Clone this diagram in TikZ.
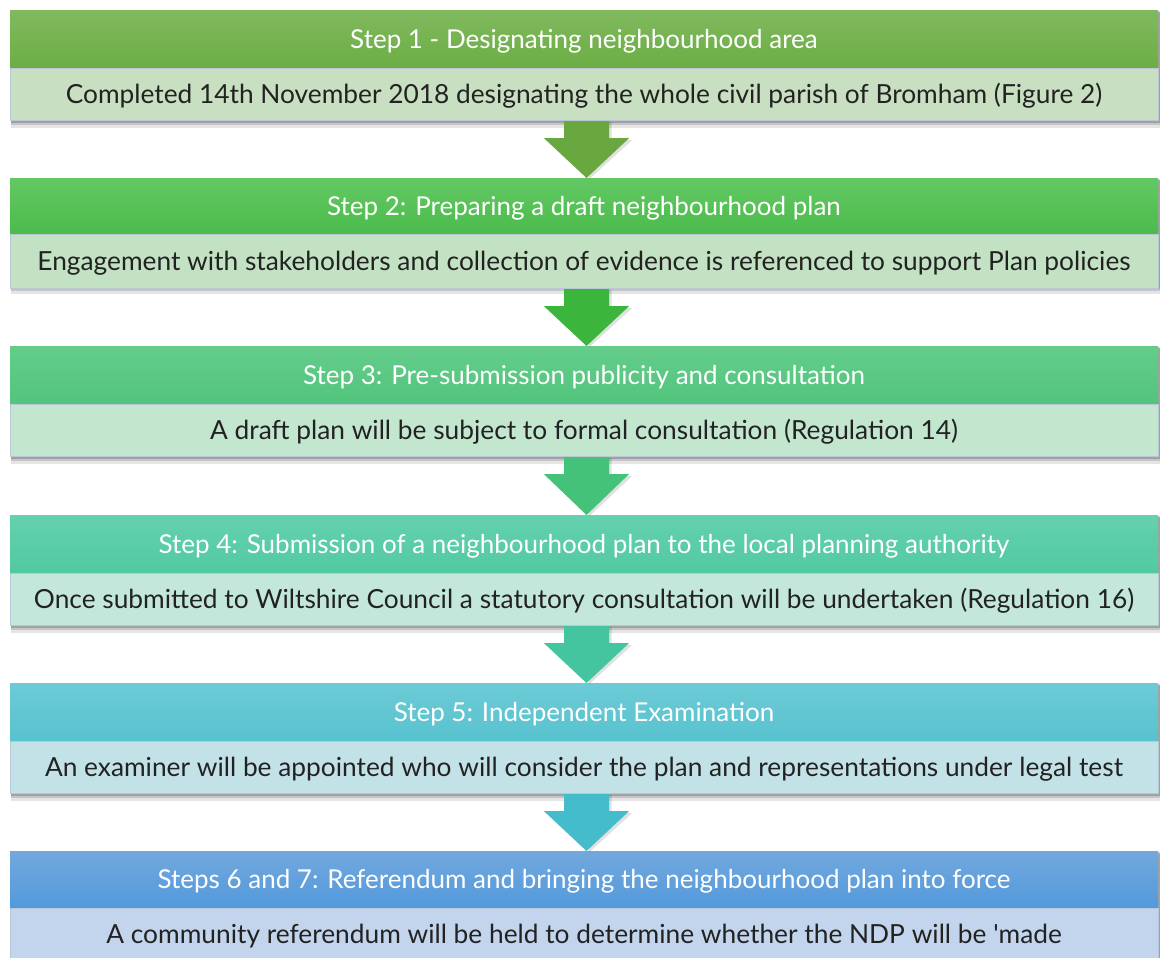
\documentclass[tikz,border=0pt]{standalone}
\usepackage{fontspec}
\setmainfont{Lato}[Ligatures=TeXOff]
\usetikzlibrary{calc}
\definecolor{h1t}{HTML}{80B95E}\definecolor{h1b}{HTML}{6CAD44}\definecolor{c1}{HTML}{C9DFC1}\definecolor{a1}{HTML}{68A83E}
\definecolor{h2t}{HTML}{63C863}\definecolor{h2b}{HTML}{4BBB4B}\definecolor{c2}{HTML}{C3E2C3}\definecolor{a2}{HTML}{3CB53C}
\definecolor{h3t}{HTML}{64CD8C}\definecolor{h3b}{HTML}{52C47C}\definecolor{c3}{HTML}{C3E6CF}\definecolor{a3}{HTML}{45C27A}
\definecolor{h4t}{HTML}{64D1AF}\definecolor{h4b}{HTML}{52C9A1}\definecolor{c4}{HTML}{C3E7DB}\definecolor{a4}{HTML}{45C4A0}
\definecolor{h5t}{HTML}{6CCBD6}\definecolor{h5b}{HTML}{58C2CF}\definecolor{c5}{HTML}{C3E2E8}\definecolor{a5}{HTML}{45BCCB}
\definecolor{h6t}{HTML}{72A8DD}\definecolor{h6b}{HTML}{5399DC}\definecolor{c6}{HTML}{C3D5EC}
\definecolor{bodyline}{HTML}{B8C6D8}
\definecolor{bodytext}{HTML}{222222}
\newcommand{\flowarrow}[3]{%
  \fill[black,opacity=0.12] ($(#1.south)+(-19.5,1)$) -- ($(#1.south)+(27.5,1)$) -- ($(#1.south)+(27.5,19)$) -- ($(#1.south)+(48,19)$) -- ($(#2.north)+(5.5,1)$) -- cycle;
  \fill[#3] ($(#1.south)+(-20,0)$) -- ($(#1.south)+(25,0)$) -- ($(#1.south)+(25,17)$) -- ($(#1.south)+(45,17)$) -- ($(#2.north)+(2.5,0)$) -- ($(#1.south)+(-40,17)$) -- ($(#1.south)+(-20,17)$) -- cycle;}
\newcommand{\stepshadow}[2]{%
  \fill[black,opacity=0.10] ($(#1.north west)+(1,3)$) rectangle ($(#2.south east)+(4,7)$);
  \fill[black,opacity=0.14] ($(#1.north west)+(1,2)$) rectangle ($(#2.south east)+(3,4.5)$);
  \fill[black,opacity=0.18] ($(#1.north west)+(1,1)$) rectangle ($(#2.south east)+(2,2.5)$);}
\begin{document}
\begin{tikzpicture}[x=1pt,y=-1pt,
  head/.style={minimum width=1148pt, minimum height=58pt, inner sep=0pt, anchor=north,
    text height=20pt, text depth=2pt,
    text=white, font=\fontsize{26}{30}\selectfont},
  body/.style={minimum width=1148pt, minimum height=52pt, inner sep=0pt, anchor=north,
    text height=20pt, text depth=2pt,
    draw=bodyline, line width=0.8pt, text=bodytext, font=\fontsize{26.3}{30}\selectfont}]
\useasboundingbox (0,0) rectangle (1160,958);
\path (584,10) coordinate (p1) (584,178) coordinate (p2) (584,346) coordinate (p3)
      (584,515) coordinate (p4) (584,683) coordinate (p5) (584,851) coordinate (p6);
% invisible placement helpers for shadows
\path node[head,draw=none] (h1) at (p1) {} node[body,draw=none,anchor=north] (b1) at ($(p1)+(0,58)$) {};
\path node[head,draw=none] (h2) at (p2) {} node[body,draw=none] (b2) at ($(p2)+(0,56)$) {};
\path node[head,draw=none] (h3) at (p3) {} node[body,draw=none] (b3) at ($(p3)+(0,58)$) {};
\path node[head,draw=none] (h4) at (p4) {} node[body,draw=none] (b4) at ($(p4)+(0,58)$) {};
\path node[head,draw=none] (h5) at (p5) {} node[body,draw=none] (b5) at ($(p5)+(0,58)$) {};
\path node[head,draw=none] (h6) at (p6) {} node[body,draw=none] (b6) at ($(p6)+(0,57)$) {};
\stepshadow{h1}{b1}\stepshadow{h2}{b2}\stepshadow{h3}{b3}\stepshadow{h4}{b4}\stepshadow{h5}{b5}\stepshadow{h6}{b6}
% step boxes
\node[head, top color=h1t, bottom color=h1b] (h1) at (p1) {Step 1 - Designating neighbourhood area};
\node[body, fill=c1] (b1) at (h1.south) {Completed 14th November 2018 designating the whole civil parish of Bromham (Figure 2)};
\node[head, top color=h2t, bottom color=h2b, minimum height=56pt] (h2) at (p2) {Step 2: Preparing a draft neighbourhood plan};
\node[body, fill=c2, minimum height=54pt] (b2) at (h2.south) {Engagement with stakeholders and collection of evidence is referenced to support Plan policies};
\node[head, top color=h3t, bottom color=h3b] (h3) at (p3) {Step 3: Pre-submission publicity and consultation};
\node[body, fill=c3] (b3) at (h3.south) {A draft plan will be subject to formal consultation (Regulation 14)};
\node[head, top color=h4t, bottom color=h4b] (h4) at (p4) {Step 4: Submission of a neighbourhood plan to the local planning authority};
\node[body, fill=c4] (b4) at (h4.south) {Once submitted to Wiltshire Council a statutory consultation will be undertaken (Regulation 16)};
\node[head, top color=h5t, bottom color=h5b] (h5) at (p5) {Step 5: Independent Examination};
\node[body, fill=c5] (b5) at (h5.south) {An examiner will be appointed who will consider the plan and representations under legal test};
\node[head, top color=h6t, bottom color=h6b, minimum height=57pt] (h6) at (p6) {Steps 6 and 7: Referendum and bringing the neighbourhood plan into force};
\node[body, fill=c6] (b6) at (h6.south) {A community referendum will be held to determine whether the NDP will be 'made};
% arrows
\flowarrow{b1}{h2}{a1}
\flowarrow{b2}{h3}{a2}
\flowarrow{b3}{h4}{a3}
\flowarrow{b4}{h5}{a4}
\flowarrow{b5}{h6}{a5}
\end{tikzpicture}
\end{document}
